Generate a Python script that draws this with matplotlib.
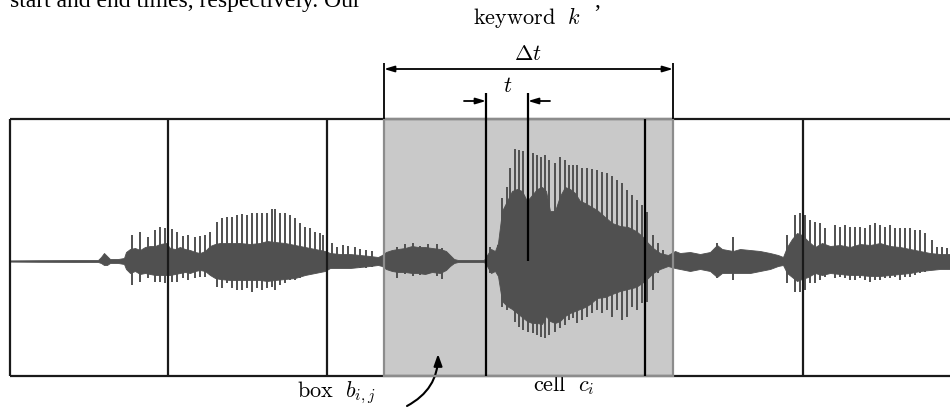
import matplotlib
matplotlib.use("Agg")
import matplotlib.pyplot as plt
from matplotlib.patches import Rectangle

plt.rcParams['mathtext.fontset'] = 'cm'

# everything is laid out in image pixels (x right, y down)
center_y = 261
frame_top, frame_bot = 119, 376
frame_left, frame_right = 10, 950
cell_lines = [10, 168, 327, 803]
box_left, box_right = 384, 673
inner_line = 645
t_lines = [486, 528]

# dense part of the waveform: x, amplitude above / below the centre
body_x = [10, 38, 98, 101, 104, 107, 110, 118, 124, 126, 130, 135, 140, 145, 150, 155,
          160, 166, 170, 175, 180, 185, 190, 195, 200, 205, 210, 215, 220, 230, 240,
          250, 260, 267, 275, 285, 295, 305, 315, 325, 330, 340, 350, 360, 370, 378,
          382, 386, 392, 398, 405, 412, 418, 425, 432, 440, 446, 450, 454, 458, 484,
          487, 491, 495, 498, 502, 507, 512, 517, 522, 527, 532, 537, 542, 546, 550,
          555, 560, 565, 570, 575, 580, 585, 590, 597, 605, 612, 620, 628, 636, 642,
          648, 653, 660, 668, 675, 680, 690, 700, 710, 717, 722, 733, 740, 750, 760,
          770, 778, 783, 787, 792, 797, 802, 808, 815, 822, 830, 840, 850, 860, 870,
          880, 890, 900, 910, 920, 930, 940, 950]
body_up = [0.6, 0.8, 1, 4, 8, 5, 2, 2, 3, 9, 12, 13, 11, 14, 15, 15,
           17, 18, 13, 12, 14, 12, 11, 9, 8, 10, 15, 17, 18, 18, 18,
           17, 18, 20, 19, 18, 16, 14, 12, 10, 8, 7, 7, 6, 5, 4,
           6, 9, 11, 12, 13, 15, 14, 14, 13, 12, 10, 6, 2, 1, 1,
           6, 12, 10, 18, 50, 60, 70, 72, 70, 60, 66, 72, 74, 70, 50,
           50, 65, 74, 72, 68, 60, 58, 55, 51, 44, 38, 35, 34, 30, 25,
           18, 13, 8, 6, 10, 8, 9, 7, 9, 16, 12, 10, 12, 11, 10,
           8, 6, 4, 14, 22, 28, 26, 20, 14, 18, 15, 16, 14, 17, 16,
           18, 15, 14, 12, 10, 8, 7, 7]
body_dn = [0.6, 0.8, 1, 2, 4, 4, 2, 2, 3, 8, 12, 10, 13, 12, 13, 14,
           14, 14, 14, 13, 12, 11, 12, 10, 9, 10, 14, 17, 18, 19, 19,
           19, 19, 20, 19, 18, 17, 14, 12, 10, 7, 7, 7, 6, 5, 4,
           5, 8, 10, 11, 11, 12, 12, 13, 11, 12, 9, 5, 2, 1, 1,
           5, 12, 10, 15, 40, 45, 48, 52, 56, 60, 62, 62, 63, 55, 60,
           62, 60, 55, 52, 50, 48, 46, 43, 37, 36, 33, 30, 28, 26, 22,
           17, 12, 8, 5, 7, 8, 10, 8, 10, 16, 12, 12, 12, 12, 10,
           8, 5, 4, 12, 16, 20, 18, 16, 12, 14, 12, 13, 14, 14, 15,
           15, 14, 13, 12, 10, 9, 8, 8]

# tall pitch spikes: x, height above / below the centre
spike_x = [132, 140, 148, 155, 160, 165, 172, 177, 183, 188, 195, 200, 205, 210, 217,
           222, 227, 232, 237, 242, 247, 252, 257, 262, 267, 272, 275, 280, 285, 290,
           295, 300, 305, 310, 315, 320, 323, 332, 337, 343, 348, 355, 360, 366, 372,
           397, 405, 413, 420, 428, 437, 442,
           490, 498, 502, 507, 510, 515, 519, 523, 528, 533, 537, 541, 545, 549, 555,
           560, 565, 569, 573, 577, 582, 587, 592, 597, 602, 607, 612, 617, 622, 627,
           632, 637, 642, 647, 653, 658, 663,
           717, 733, 787, 795, 800, 805, 810, 815, 820, 825, 835, 840, 845, 850, 855,
           860, 865, 870, 875, 880, 885, 890, 895, 900, 905, 910, 915, 920, 925, 932,
           937, 942, 947]
spike_up = [26, 29, 24, 31, 34, 33, 32, 29, 25, 26, 24, 25, 26, 29, 39,
            43, 44, 44, 46, 47, 46, 48, 48, 48, 48, 52, 52, 48, 48, 46,
            43, 38, 34, 33, 29, 28, 26, 18, 14, 16, 15, 14, 12, 11, 10,
            14, 17, 18, 15, 17, 17, 13,
            14, 16, 63, 74, 93, 112, 111, 110, 108, 108, 106, 104, 106, 101, 98,
            104, 101, 96, 96, 96, 93, 93, 92, 91, 89, 88, 85, 81, 78, 71,
            66, 61, 56, 49, 26, 18, 11,
            18, 24, 26, 46, 48, 46, 41, 39, 38, 33, 36, 34, 36, 34, 34,
            34, 33, 36, 38, 36, 34, 36, 33, 33, 33, 33, 31, 31, 28, 21,
            14, 14, 13]
spike_dn = [24, 21, 17, 21, 21, 22, 21, 21, 17, 19, 17, 16, 16, 14, 26,
            27, 22, 27, 29, 29, 27, 31, 27, 29, 27, 26, 29, 24, 22, 19,
            19, 17, 14, 13, 12, 11, 9, 6, 6, 7, 7, 7, 7, 7, 6,
            17, 13, 15, 14, 13, 15, 18,
            12, 14, 46, 49, 46, 61, 66, 69, 71, 72, 74, 76, 77, 74, 71,
            67, 64, 59, 57, 62, 59, 56, 52, 49, 52, 49, 56, 49, 59, 56,
            46, 49, 42, 41, 29, 12, 7,
            17, 19, 22, 31, 31, 29, 22, 22, 19, 16, 17, 16, 17, 19, 19,
            17, 19, 21, 19, 19, 17, 17, 16, 19, 16, 16, 14, 12, 11, 9,
            7, 6, 6]

wave_col = '#505050'

fig = plt.figure(figsize=(9.5, 4.09), dpi=100)
ax = fig.add_axes([0, 0, 1, 1])
ax.set_xlim(0, 950)
ax.set_ylim(409, 0)
ax.axis('off')

# shaded box b_ij
ax.add_patch(Rectangle((box_left, frame_top), box_right - box_left, frame_bot - frame_top,
                       facecolor='#c9c9c9', edgecolor='none', zorder=0))

# waveform
ax.fill_between(body_x, [center_y - v for v in body_up], [center_y + v for v in body_dn],
                color=wave_col, linewidth=0.6, zorder=2)
ax.vlines(spike_x, [center_y - v for v in spike_up], [center_y + v for v in spike_dn],
          color=wave_col, linewidth=1.4, zorder=2)

# frame and cell boundaries
ax.hlines([frame_top, frame_bot], frame_left, frame_right, color='#1a1a1a', linewidth=1.6, zorder=3)
ax.vlines(cell_lines, frame_top, frame_bot, color='#1a1a1a', linewidth=1.6, zorder=3)
ax.add_patch(Rectangle((box_left, frame_top), box_right - box_left, frame_bot - frame_top,
                       facecolor='none', edgecolor='#8c8c8c', linewidth=1.6, zorder=4))
ax.vlines([inner_line], frame_top, frame_bot, color='black', linewidth=1.6, zorder=5)
ax.vlines([t_lines[0]], 93, frame_bot, color='black', linewidth=1.6, zorder=5)
ax.vlines([t_lines[1]], 93, center_y, color='black', linewidth=1.6, zorder=5)

# keyword span
ax.vlines([box_left, box_right], 63, frame_top, color='black', linewidth=1.3, zorder=5)
ax.annotate('', xy=(box_right, 69), xytext=(box_left, 69),
            arrowprops=dict(arrowstyle='<|-|>,head_length=0.6,head_width=0.18',
                            color='black', lw=1.3, shrinkA=0, shrinkB=0))
ax.annotate('', xy=(t_lines[0], 101), xytext=(464, 101),
            arrowprops=dict(arrowstyle='-|>,head_length=0.6,head_width=0.18',
                            color='black', lw=1.3, shrinkA=0, shrinkB=0))
ax.annotate('', xy=(t_lines[1], 101), xytext=(550, 101),
            arrowprops=dict(arrowstyle='-|>,head_length=0.6,head_width=0.18',
                            color='black', lw=1.3, shrinkA=0, shrinkB=0))

ax.text(527, 18, r'$\mathrm{keyword}\ \ k$', fontsize=16, ha='center', va='center')
ax.text(528, 54, r'$\Delta t$', fontsize=16, ha='center', va='center')
ax.text(508, 86, r'$t$', fontsize=16, ha='center', va='center')
ax.text(564, 385, r'$\mathrm{cell}\ \ c_i$', fontsize=16, ha='center', va='center')
ax.text(297, 393, r'$\mathrm{box}\ \ b_{i,j}$', fontsize=16, ha='left', va='center')
ax.annotate('', xy=(438, 354), xytext=(407, 406),
            arrowprops=dict(arrowstyle='-|>,head_length=0.7,head_width=0.25',
                            color='black', lw=1.5, shrinkA=0, shrinkB=0,
                            connectionstyle='arc3,rad=0.3'))

# clipped line of paper text above the figure
ax.text(10, 7, 'start and end times, respectively. Our', fontsize=17,
        family='Liberation Serif', ha='left', va='baseline', zorder=6)
ax.text(594, 7, ',', fontsize=17, family='Liberation Serif', ha='left', va='baseline')

fig.savefig('out.png', dpi=100)
